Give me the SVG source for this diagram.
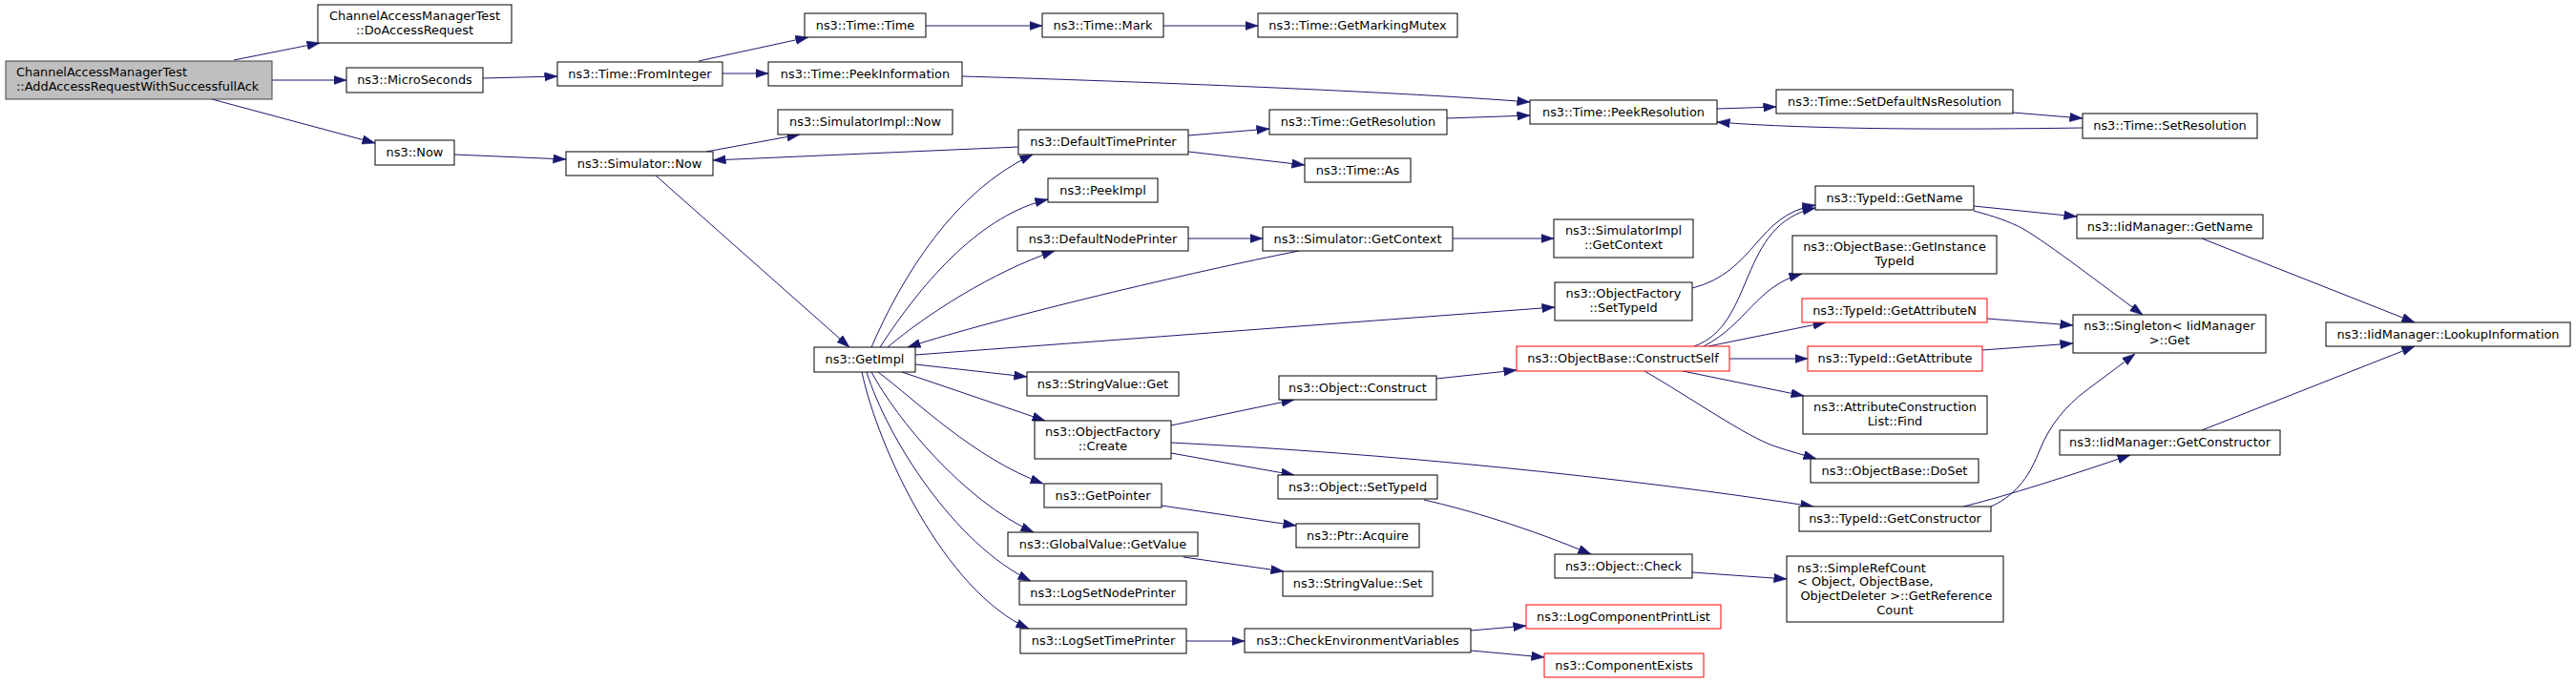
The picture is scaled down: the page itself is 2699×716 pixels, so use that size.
<svg xmlns="http://www.w3.org/2000/svg" width="2699" height="716" viewBox="0 0 2699 716">
<style>
.n rect{fill:#ffffff;stroke:#000000;stroke-width:1}
.n.r rect{stroke:#ff0000}
.n.root rect{fill:#bfbfbf;stroke:#404040}
text{font-family:"DejaVu Sans","Liberation Sans",sans-serif;font-size:12.9px;text-anchor:middle;fill:#000000}
text.l{text-anchor:start}
#edges path{fill:none;stroke:#191970;stroke-width:1;marker-end:url(#a)}
</style>
<defs>
<marker id="a" markerUnits="userSpaceOnUse" markerWidth="14" markerHeight="10" refX="13.5" refY="4.7" orient="auto" viewBox="0 0 14 10">
<path d="M0,0 L13.5,4.7 L0,9.4 z" fill="#191970" stroke="#191970" stroke-width="0.5"/>
</marker>
</defs>
<rect x="0" y="0" width="2699" height="716" fill="#ffffff"/>
<g id="edges">
<path d="M245,63 L335,45"/>
<path d="M285,84 L363,84"/>
<path d="M222,104 L393,150"/>
<path d="M506,82 L584,80"/>
<path d="M732,64 L847,39"/>
<path d="M757,77 L805,77"/>
<path d="M970,27 L1092,27"/>
<path d="M1219,27 L1318,27"/>
<path d="M1008,80 C1150,84 1450,95 1603,107"/>
<path d="M476,162 L593,167"/>
<path d="M740,159 L838,141"/>
<path d="M1067,154 L747,168"/>
<path d="M687,184 L890,364"/>
<path d="M1245,142 L1330,135"/>
<path d="M1245,159 L1367,173"/>
<path d="M1516,124 L1603,121"/>
<path d="M1799,114 L1861,112"/>
<path d="M2109,118 L2182,124"/>
<path d="M2182,134 C2050,136 1900,136 1799,128"/>
<path d="M1245,250 L1323,250"/>
<path d="M1522,250 L1628,250"/>
<path d="M1361,263 C1250,285 1050,332 951,364"/>
<path d="M913,364 C945,290 1000,200 1082,162"/>
<path d="M922,364 C970,290 1030,225 1098,209"/>
<path d="M930,364 C970,330 1040,285 1105,263"/>
<path d="M959,372 L1629,322"/>
<path d="M959,382 L1076,395"/>
<path d="M945,390 L1095,441"/>
<path d="M920,390 C960,420 1020,480 1093,507"/>
<path d="M913,390 C940,440 1010,525 1083,558"/>
<path d="M908,390 C930,460 1000,570 1080,609"/>
<path d="M903,390 C920,470 990,620 1078,659"/>
<path d="M1773,302 C1840,285 1840,225 1902,215"/>
<path d="M1775,363 C1840,340 1820,235 1902,218"/>
<path d="M1785,363 C1830,340 1840,300 1888,287"/>
<path d="M1790,363 L1913,338"/>
<path d="M1812,376 L1894,376"/>
<path d="M1763,389 L1890,415"/>
<path d="M1723,389 C1770,416 1830,458 1860,468 C1875,473 1890,477 1903,481"/>
<path d="M1227,446 L1356,419"/>
<path d="M1227,464 C1450,475 1700,500 1900,531"/>
<path d="M1227,475 L1356,498"/>
<path d="M1505,397 L1589,388"/>
<path d="M1217,530 L1358,551"/>
<path d="M1240,584 L1345,599"/>
<path d="M1492,524 C1540,535 1600,553 1667,581"/>
<path d="M1773,600 L1872,607"/>
<path d="M1243,672 L1304,672"/>
<path d="M1541,661 L1599,656"/>
<path d="M1541,682 L1618,689"/>
<path d="M2068,216 L2176,227"/>
<path d="M2068,221 C2090,227 2105,232 2120,240 C2150,258 2200,297 2245,330"/>
<path d="M2082,334 L2172,341"/>
<path d="M2077,367 L2172,360"/>
<path d="M2307,250 L2530,338"/>
<path d="M2307,451 L2530,363"/>
<path d="M2057,531 C2090,523 2150,505 2232,477"/>
<path d="M2086,531 C2115,518 2128,495 2137,472 C2148,445 2165,425 2185,410 L2237,371"/>
</g>
<g id="root" class="n root"><rect x="6" y="64" width="279" height="40"/><text class="l" x="17" y="80">ChannelAccessManagerTest</text><text class="l" x="17" y="95">::AddAccessRequestWithSuccessfullAck</text></g>
<g id="doaccessrequest" class="n"><rect x="333" y="5" width="203" height="40"/><text x="434.5" y="21">ChannelAccessManagerTest</text><text x="434.5" y="36">::DoAccessRequest</text></g>
<g id="microseconds" class="n"><rect x="363" y="71" width="143" height="26"/><text x="434.5" y="88">ns3::MicroSeconds</text></g>
<g id="now" class="n"><rect x="393" y="147" width="83" height="26"/><text x="434.5" y="164">ns3::Now</text></g>
<g id="frominteger" class="n"><rect x="584" y="65" width="173" height="25"/><text x="670.5" y="82">ns3::Time::FromInteger</text></g>
<g id="simulatornow" class="n"><rect x="593" y="159" width="154" height="25"/><text x="670" y="176">ns3::Simulator::Now</text></g>
<g id="timetime" class="n"><rect x="843" y="14" width="127" height="25"/><text x="906.5" y="31">ns3::Time::Time</text></g>
<g id="peekinformation" class="n"><rect x="805" y="65" width="203" height="25"/><text x="906.5" y="82">ns3::Time::PeekInformation</text></g>
<g id="simulatorimplnow" class="n"><rect x="815" y="115" width="183" height="26"/><text x="906.5" y="132">ns3::SimulatorImpl::Now</text></g>
<g id="getimpl" class="n"><rect x="853" y="364" width="106" height="26"/><text x="906" y="381">ns3::GetImpl</text></g>
<g id="timemark" class="n"><rect x="1092" y="14" width="127" height="25"/><text x="1155.5" y="31">ns3::Time::Mark</text></g>
<g id="defaulttimeprinter" class="n"><rect x="1067" y="136" width="178" height="26"/><text x="1156" y="153">ns3::DefaultTimePrinter</text></g>
<g id="peekimpl" class="n"><rect x="1098" y="187" width="115" height="25"/><text x="1155.5" y="204">ns3::PeekImpl</text></g>
<g id="defaultnodeprinter" class="n"><rect x="1066" y="238" width="179" height="25"/><text x="1155.5" y="255">ns3::DefaultNodePrinter</text></g>
<g id="stringvalueget" class="n"><rect x="1076" y="390" width="159" height="25"/><text x="1155.5" y="407">ns3::StringValue::Get</text></g>
<g id="objectfactorycreate" class="n"><rect x="1084" y="441" width="143" height="40"/><text x="1155.5" y="457">ns3::ObjectFactory</text><text x="1155.5" y="472">::Create</text></g>
<g id="getpointer" class="n"><rect x="1094" y="507" width="123" height="25"/><text x="1155.5" y="524">ns3::GetPointer</text></g>
<g id="globalvaluegetvalue" class="n"><rect x="1056" y="558" width="199" height="25"/><text x="1155.5" y="575">ns3::GlobalValue::GetValue</text></g>
<g id="logsetnodeprinter" class="n"><rect x="1068" y="609" width="175" height="25"/><text x="1155.5" y="626">ns3::LogSetNodePrinter</text></g>
<g id="logsettimeprinter" class="n"><rect x="1069" y="659" width="174" height="26"/><text x="1156" y="676">ns3::LogSetTimePrinter</text></g>
<g id="getmarkingmutex" class="n"><rect x="1318" y="14" width="209" height="25"/><text x="1422.5" y="31">ns3::Time::GetMarkingMutex</text></g>
<g id="getresolution" class="n"><rect x="1330" y="115" width="186" height="26"/><text x="1423" y="132">ns3::Time::GetResolution</text></g>
<g id="timeas" class="n"><rect x="1367" y="166" width="111" height="25"/><text x="1422.5" y="183">ns3::Time::As</text></g>
<g id="simulatorgetcontext" class="n"><rect x="1323" y="238" width="199" height="25"/><text x="1422.5" y="255">ns3::Simulator::GetContext</text></g>
<g id="objectconstruct" class="n"><rect x="1340" y="394" width="165" height="25"/><text x="1422.5" y="411">ns3::Object::Construct</text></g>
<g id="objectsettypeid" class="n"><rect x="1339" y="498" width="167" height="25"/><text x="1422.5" y="515">ns3::Object::SetTypeId</text></g>
<g id="ptracquire" class="n"><rect x="1358" y="549" width="129" height="25"/><text x="1422.5" y="566">ns3::Ptr::Acquire</text></g>
<g id="stringvalueset" class="n"><rect x="1344" y="599" width="157" height="26"/><text x="1422.5" y="616">ns3::StringValue::Set</text></g>
<g id="checkenvironmentvariables" class="n"><rect x="1304" y="659" width="237" height="25"/><text x="1422.5" y="676">ns3::CheckEnvironmentVariables</text></g>
<g id="peekresolution" class="n"><rect x="1603" y="105" width="196" height="25"/><text x="1701" y="122">ns3::Time::PeekResolution</text></g>
<g id="simulatorimplgetcontext" class="n"><rect x="1628" y="230" width="146" height="40"/><text x="1701" y="246">ns3::SimulatorImpl</text><text x="1701" y="261">::GetContext</text></g>
<g id="objectfactorysettypeid" class="n"><rect x="1629" y="296" width="144" height="40"/><text x="1701" y="312">ns3::ObjectFactory</text><text x="1701" y="327">::SetTypeId</text></g>
<g id="constructself" class="n r"><rect x="1589" y="363" width="223" height="26"/><text x="1700.5" y="380">ns3::ObjectBase::ConstructSelf</text></g>
<g id="objectcheck" class="n"><rect x="1629" y="581" width="144" height="25"/><text x="1701" y="598">ns3::Object::Check</text></g>
<g id="logcomponentprintlist" class="n r"><rect x="1599" y="634" width="204" height="25"/><text x="1701" y="651">ns3::LogComponentPrintList</text></g>
<g id="componentexists" class="n r"><rect x="1618" y="685" width="167" height="25"/><text x="1701.5" y="702">ns3::ComponentExists</text></g>
<g id="setdefaultnsresolution" class="n"><rect x="1861" y="94" width="248" height="25"/><text x="1985" y="111">ns3::Time::SetDefaultNsResolution</text></g>
<g id="typeidgetname" class="n"><rect x="1902" y="195" width="166" height="25"/><text x="1985" y="212">ns3::TypeId::GetName</text></g>
<g id="getinstancetypeid" class="n"><rect x="1878" y="247" width="214" height="40"/><text x="1985" y="263">ns3::ObjectBase::GetInstance</text><text x="1985" y="278">TypeId</text></g>
<g id="getattributen" class="n r"><rect x="1888" y="313" width="194" height="25"/><text x="1985" y="330">ns3::TypeId::GetAttributeN</text></g>
<g id="getattribute" class="n r"><rect x="1894" y="363" width="183" height="26"/><text x="1985.5" y="380">ns3::TypeId::GetAttribute</text></g>
<g id="attributeconstructionlistfind" class="n"><rect x="1889" y="415" width="193" height="40"/><text x="1985.5" y="431">ns3::AttributeConstruction</text><text x="1985.5" y="446">List::Find</text></g>
<g id="objectbasedoset" class="n"><rect x="1897" y="481" width="176" height="25"/><text x="1985" y="498">ns3::ObjectBase::DoSet</text></g>
<g id="typeidgetconstructor" class="n"><rect x="1885" y="531" width="201" height="26"/><text x="1985.5" y="548">ns3::TypeId::GetConstructor</text></g>
<g id="simplerefcount" class="n"><rect x="1872" y="583" width="227" height="69"/><text class="l" x="1883" y="600">ns3::SimpleRefCount</text><text class="l" x="1883" y="614">&lt; Object, ObjectBase,</text><text x="1987" y="629">ObjectDeleter &gt;::GetReference</text><text x="1985.5" y="644">Count</text></g>
<g id="setresolution" class="n"><rect x="2182" y="119" width="183" height="26"/><text x="2273.5" y="136">ns3::Time::SetResolution</text></g>
<g id="iidmanagergetname" class="n"><rect x="2176" y="225" width="195" height="25"/><text x="2273.5" y="242">ns3::IidManager::GetName</text></g>
<g id="singletonget" class="n"><rect x="2172" y="330" width="202" height="40"/><text x="2273" y="346">ns3::Singleton&lt; IidManager</text><text x="2273" y="361">&gt;::Get</text></g>
<g id="iidmanagergetconstructor" class="n"><rect x="2158" y="451" width="231" height="26"/><text x="2273.5" y="468">ns3::IidManager::GetConstructor</text></g>
<g id="lookupinformation" class="n"><rect x="2437" y="338" width="256" height="25"/><text x="2565" y="355">ns3::IidManager::LookupInformation</text></g>
</svg>
